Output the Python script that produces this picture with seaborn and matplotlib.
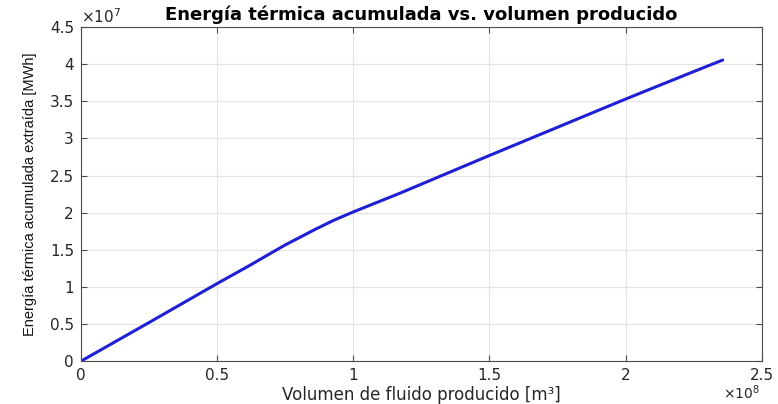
import pandas as pd
import matplotlib
matplotlib.use("Agg")
import matplotlib.pyplot as plt
import seaborn as sns

# Datos (volumen en m³, energía en MWh)
volumen = [0.0, 0.25e8, 0.5e8, 0.62e8, 0.7e8, 0.75e8, 0.8e8, 0.86e8, 0.93e8,
           1.0e8, 1.17e8, 1.5e8, 1.75e8, 2.0e8, 2.25e8, 2.357e8]
energia = [0.0, 0.52e7, 1.045e7, 1.29e7, 1.46e7, 1.565e7, 1.66e7, 1.775e7, 1.90e7,
           2.01e7, 2.26e7, 2.77e7, 3.15e7, 3.53e7, 3.90e7, 4.056e7]

X_TICKS = [0, 0.5e8, 1.0e8, 1.5e8, 2.0e8, 2.5e8]
Y_TICKS = [0, 0.5e7, 1.0e7, 1.5e7, 2.0e7, 2.5e7, 3.0e7, 3.5e7, 4.0e7, 4.5e7]

GRIS_TEXTO = "#262626"
GRIS_EJE = "#4d4d4d"


def main():
    sns.set_theme(style="whitegrid")
    plt.rcParams['font.family'] = ['DejaVu Sans']

    df = pd.DataFrame({'volumen': volumen, 'energia': energia})

    fig = plt.figure(figsize=(7.78, 4.04), dpi=100)
    ax = fig.add_axes([0.104, 0.106, 0.875, 0.827])

    sns.lineplot(data=df, x='volumen', y='energia', color='#1f1fd6', linewidth=2.2, ax=ax)

    ax.set_xlim(0, 2.5e8)
    ax.set_ylim(0, 4.5e7)
    ax.set_xticks(X_TICKS)
    ax.set_yticks(Y_TICKS)
    ax.xaxis.set_major_formatter(plt.FuncFormatter(lambda v, p: f"{v / 1e8:g}"))
    ax.yaxis.set_major_formatter(plt.FuncFormatter(lambda v, p: f"{v / 1e7:g}"))

    ax.grid(True, color='#e3e3e3', linewidth=0.8)
    for s in ax.spines.values():
        s.set_color(GRIS_EJE)
        s.set_linewidth(0.8)
    ax.tick_params(axis='both', which='both', direction='in', length=4, width=0.8,
                   color=GRIS_EJE, labelcolor=GRIS_TEXTO, labelsize=11,
                   top=True, right=True, bottom=True, left=True, pad=5)

    # exponentes estilo MATLAB
    ax.text(0.0, 1.003, r'$\times10^7$', transform=ax.transAxes, fontsize=11,
            color=GRIS_TEXTO, ha='left', va='bottom')
    ax.text(0.998, -0.095, r'$\times10^8$', transform=ax.transAxes, fontsize=10,
            color=GRIS_TEXTO, ha='right', va='center')

    ax.set_xlabel('Volumen de fluido producido [m³]', fontsize=12, color=GRIS_TEXTO, labelpad=2)
    ax.set_ylabel('Energía térmica acumulada extraída [MWh]', fontsize=10.5, color='#111111',
                  family=['Liberation Sans', 'DejaVu Sans'], labelpad=9)
    ax.set_title('Energía térmica acumulada vs. volumen producido', fontsize=13,
                 fontweight='bold', color='black', pad=5)

    fig.savefig('out.png', dpi=100)


if __name__ == "__main__":
    main()
